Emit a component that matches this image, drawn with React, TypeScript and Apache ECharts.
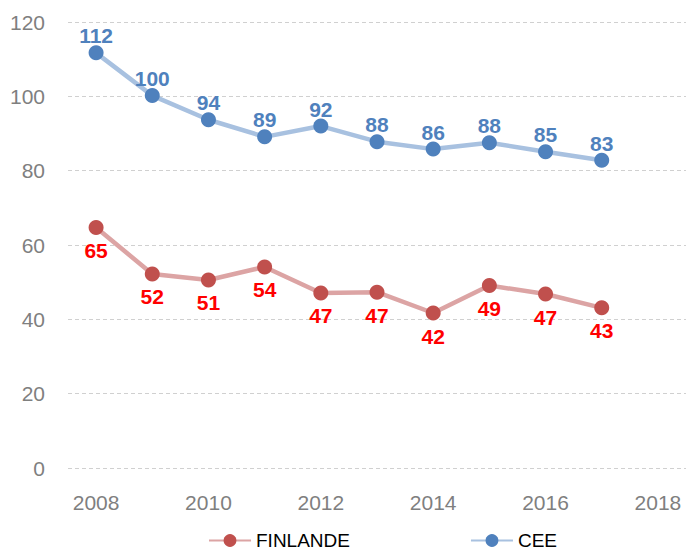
import React, { useEffect, useRef } from "react";
import * as echarts from "echarts";

const years = ["2008", "2009", "2010", "2011", "2012", "2013", "2014", "2015", "2016", "2017", "2018"];
const finlande = [64.7, 52.2, 50.6, 54.1, 47.1, 47.3, 41.7, 49.1, 46.8, 43.1];
const cee = [111.7, 100.2, 93.7, 89.1, 92.0, 87.8, 85.8, 87.5, 85.1, 82.8];

const AXIS_FONT = "'Liberation Sans', Arial, sans-serif";
const LABEL_FONT = "'Liberation Sans', Arial, sans-serif";

export default function App() {
  const ref = useRef<HTMLDivElement>(null);
  useEffect(() => {
    document.body.style.margin = "0";
    const chart = echarts.init(ref.current!, null, { renderer: "svg" });
    chart.setOption({
      animation: false,
      backgroundColor: "#ffffff",
      grid: { left: 68, right: 0, top: 22, bottom: 84, containLabel: false },
      legend: {
        top: 526,
        left: 203,
        itemWidth: 42,
        itemHeight: 16,
        itemGap: 120,
        textStyle: { fontFamily: AXIS_FONT, fontSize: 19, color: "#000000" },
        data: ["FINLANDE", "CEE"],
      },
      xAxis: {
        type: "category",
        data: years,
        boundaryGap: true,
        axisLine: { show: false },
        axisTick: { show: false },
        axisLabel: {
          interval: 1,
          margin: 24,
          color: "#7f7f7f",
          fontSize: 21,
          fontFamily: AXIS_FONT,
        },
      },
      yAxis: {
        type: "value",
        min: 0,
        max: 120,
        interval: 20,
        axisLine: { show: false },
        axisTick: { show: false },
        axisLabel: {
          margin: 23,
          color: "#7f7f7f",
          fontSize: 21,
          fontFamily: AXIS_FONT,
        },
        splitLine: { lineStyle: { color: "#d0d0d0", type: [4, 3], width: 1 } },
      },
      series: [
        {
          name: "FINLANDE",
          type: "line",
          data: finlande,
          symbol: "circle",
          symbolSize: 15,
          lineStyle: { color: "#dca4a4", width: 4.5 },
          itemStyle: { color: "#c0504d" },
          label: {
            show: true,
            position: "bottom",
            distance: 5,
            color: "#ff0000",
            fontWeight: "bold",
            fontSize: 21,
            fontFamily: LABEL_FONT,
            formatter: (p: any) => String(Math.round(p.value)),
          },
        },
        {
          name: "CEE",
          type: "line",
          data: cee,
          symbol: "circle",
          symbolSize: 15,
          lineStyle: { color: "#a8c1e0", width: 4.5 },
          itemStyle: { color: "#4f81bd" },
          label: {
            show: true,
            position: "top",
            distance: -1,
            color: "#4f81bd",
            fontWeight: "bold",
            fontSize: 21,
            fontFamily: LABEL_FONT,
            formatter: (p: any) => String(Math.round(p.value)),
          },
        },
      ],
    });
    return () => chart.dispose();
  }, []);
  return <div ref={ref} style={{ width: 686, height: 552 }} />;
}
